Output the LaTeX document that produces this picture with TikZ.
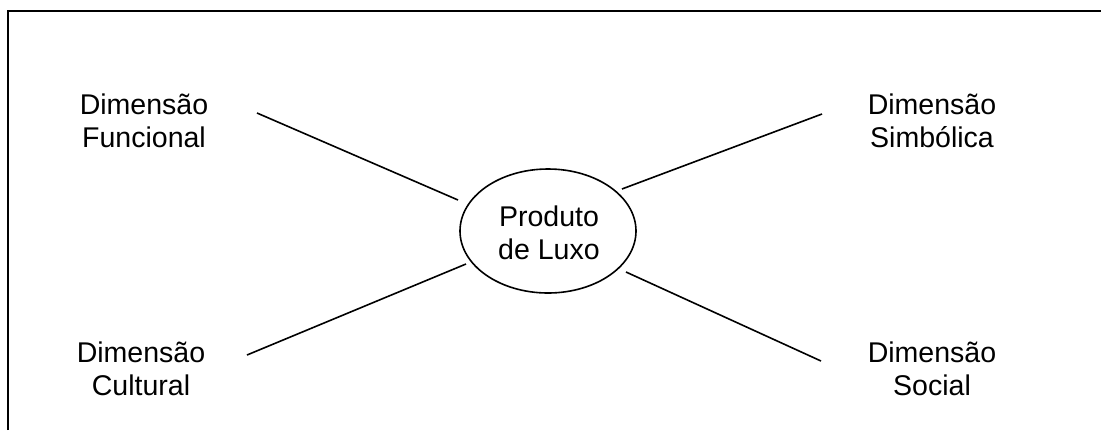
\documentclass[tikz,border=0pt]{standalone}
\usepackage{fontspec}
\setmainfont{Liberation Sans}
\usetikzlibrary{shapes.geometric}
\begin{document}
\begin{tikzpicture}[x=0.75pt,y=-0.75pt,
  label/.style={align=center,inner sep=0pt,anchor=base,
    font=\fontsize{21.4pt}{24.75pt}\selectfont},
  link/.style={line width=1.2pt},
  frame/.style={line width=1.5pt}]
\useasboundingbox (0,0) rectangle (1101,430);
% open frame: only the top and left edges
\coordinate (fa) at (7.5,430);
\coordinate (fb) at (7.5,11);
\coordinate (fc) at (1101,11);
\draw[frame] (fa) -- (fb) -- (fc);

% centre (the base anchor sits on the last line of each label)
\node[ellipse,draw,line width=1.2pt,minimum width=176*0.75pt,minimum height=124*0.75pt,inner sep=0pt] (core) at (548,231) {};
\node[label] (core-text) at (549,259) {Produto\\de Luxo};

% dimensions
\node[label] (fun) at (144,147) {Dimensão\\Funcional};
\node[label] (sim) at (932,147) {Dimensão\\Simbólica};
\node[label] (cul) at (141,395) {Dimensão\\Cultural};
\node[label] (soc) at (932,395) {Dimensão\\Social};

% connector ends
\coordinate (fun-end) at (257,113);
\coordinate (fun-core) at (458,200);
\coordinate (sim-end) at (822,114);
\coordinate (sim-core) at (622,189);
\coordinate (cul-end) at (247,355);
\coordinate (cul-core) at (466,264);
\coordinate (soc-end) at (821,361);
\coordinate (soc-core) at (626,272);

\draw[link] (fun-end) -- (fun-core);
\draw[link] (sim-core) -- (sim-end);
\draw[link] (cul-end) -- (cul-core);
\draw[link] (soc-core) -- (soc-end);
\end{tikzpicture}
\end{document}
